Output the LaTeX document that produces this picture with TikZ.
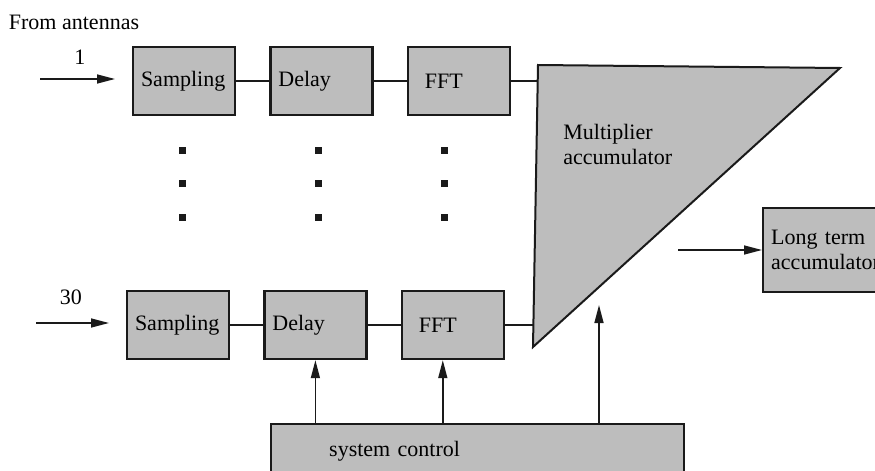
\documentclass[tikz,border=0pt]{standalone}
\usepackage{fontspec}
\setmainfont{Liberation Serif}
\usepackage{xcolor}
\definecolor{screen}{HTML}{BDBDBD}
\definecolor{ink}{HTML}{1A1A1A}
\usepackage{tikz}
\usetikzlibrary{positioning,arrows.meta}
\tikzset{
  box/.style={draw=ink, line width=1.2pt, fill=screen, align=left, font=\fontsize{11}{12.5}\selectfont,
    text width=43pt, inner xsep=4pt, minimum height=34pt},
  wire/.style={ink, line width=0.75pt},
  edge/.style={wire, -{Triangle[length=9pt,width=4.5pt]}},
  lbl/.style={font=\fontsize{11}{12.5}\selectfont, inner sep=0pt, align=left},
}

\begin{document}
\begin{tikzpicture}[x=0.5pt, y=-0.5pt, node distance=16.5pt]
  \useasboundingbox (0,0) rectangle (875,471);
  \clip (0,0) rectangle (875,471);
  \node[lbl] (src) at (74,22) {From antennas};
  % first antenna chain
  \node[box] (smp1) at (184,81) {Sampling};
  \node[box, right=of smp1] (dly1) {Delay};
  \node[box, right=of dly1] (fft1) {\hspace*{4.5pt}FFT};
  % last antenna chain
  \node[box] (smp2) at (178,325) {Sampling};
  \node[box, right=of smp2] (dly2) {Delay};
  \node[box, right=of dly2] (fft2) {\hspace*{4.5pt}FFT};
  \coordinate (in1) at (40,79);
  \coordinate (in2) at (36,323);
  \node[lbl] (n1) at (80,57) {1};
  \node[lbl] (n30) at (71,297) {30};
  \draw[edge] (in1) -- ++(75,0);
  \draw[edge] (in2) -- ++(73,0);
  \draw[wire] (smp1) -- (dly1);
  \draw[wire] (dly1) -- (fft1);
  \draw[wire] (smp2) -- (dly2);
  \draw[wire] (dly2) -- (fft2);
  \foreach \x in {182,318,444}
    \foreach \y in {150,183,217}
      \fill[ink] (\x-3.5,\y-3.5) rectangle ++(7,7);
  % correlator
  \coordinate (ttl) at (538,65);
  \coordinate (ttr) at (840,68);
  \coordinate (tbl) at (533,347);
  \draw[draw=ink, line width=1pt, fill=screen] (ttl) -- (ttr) -- (tbl) -- cycle;
  \node[lbl, anchor=north west] (mac) at (563,124) {Multiplier\\accumulator};
  \draw[wire] (fft1.east) -- (fft1.east -| ttl);
  \draw[wire] (fft2.east) -- (fft2.east -| tbl);
  \node[box, anchor=west, text width=60pt, minimum height=42pt] (lta) at (762,250) {Long term\\accumulator};
  \coordinate (out) at (678,250);
  \draw[edge] (out) -- (lta.west);
  % control
  \node[box, anchor=north west, text width=148.5pt, inner xsep=29pt, minimum height=27pt] (ctl) at (270,423) {system control};
  \coordinate (dlyin) at (dly2.south);
  \coordinate (fftin) at ([xshift=-5pt]fft2.south);
  \coordinate (macin) at (599,305);
  \draw[edge] (ctl.north -| dlyin) -- (dlyin);
  \draw[edge] (ctl.north -| fftin) -- (fftin);
  \draw[edge] (ctl.north -| macin) -- (macin);
\end{tikzpicture}
\end{document}
